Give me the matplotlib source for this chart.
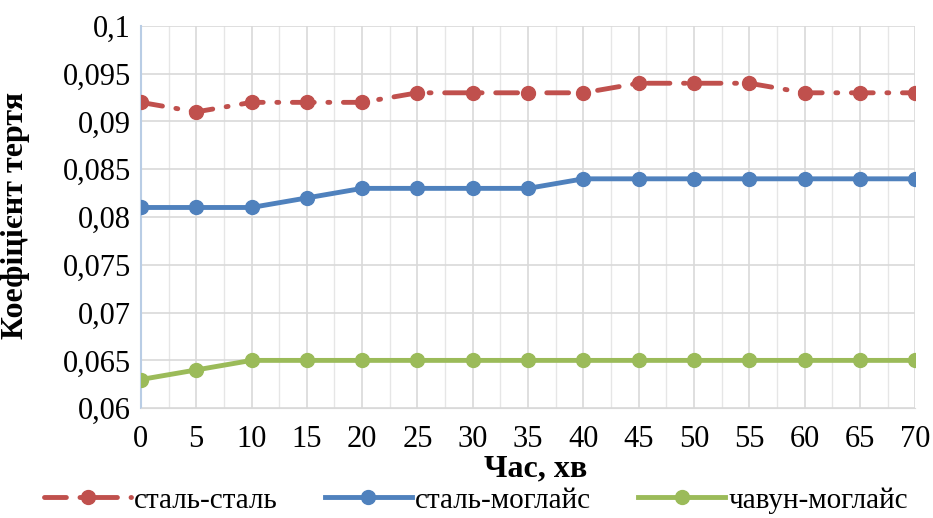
import matplotlib.pyplot as plt
import numpy as np

# Дані
t = [0, 5, 10, 15, 20, 25, 30, 35, 40, 45, 50, 55, 60, 65, 70]
stal_stal = [0.092, 0.091, 0.092, 0.092, 0.092, 0.093, 0.093, 0.093, 0.093,
             0.094, 0.094, 0.094, 0.093, 0.093, 0.093]
stal_moglais = [0.081, 0.081, 0.081, 0.082, 0.083, 0.083, 0.083, 0.083, 0.084,
                0.084, 0.084, 0.084, 0.084, 0.084, 0.084]
chavun_moglais = [0.063, 0.064, 0.065, 0.065, 0.065, 0.065, 0.065, 0.065, 0.065,
                  0.065, 0.065, 0.065, 0.065, 0.065, 0.065]
y_ticks = [0.06, 0.065, 0.07, 0.075, 0.08, 0.085, 0.09, 0.095, 0.1]
y_labels = ["0,06", "0,065", "0,07", "0,075", "0,08", "0,085", "0,09", "0,095", "0,1"]

plt.rcParams['font.family'] = ['Liberation Serif', 'DejaVu Serif']

fig = plt.figure(figsize=(9.33, 5.18), dpi=100)
ax = fig.add_axes([0.151, 0.212, 0.830, 0.738])

lw = 3.5
ms = 10
l1, = ax.plot(t, stal_stal, color='#C0504D', lw=lw, marker='o', ms=ms,
              dashes=(4.5, 2.8, 0.4, 2.8), dash_capstyle='round', zorder=3)
l2, = ax.plot(t, stal_moglais, color='#4F81BD', lw=lw, marker='o', ms=ms, zorder=3)
l3, = ax.plot(t, chavun_moglais, color='#9BBB59', lw=lw, marker='o', ms=ms, zorder=3)

ax.set_xlim(0, 70)
ax.set_ylim(0.06, 0.1)
ax.set_xticks(t)
ax.set_xticks(np.arange(2.5, 70, 5), minor=True)
ax.set_yticks(y_ticks)
ax.set_yticklabels(y_labels)
ax.tick_params(axis='both', which='both', length=0, labelsize=22)
ax.tick_params(axis='x', pad=12)
ax.tick_params(axis='y', pad=7)

ax.grid(True, which='major', color='#D9D9D9', lw=1.2)
ax.grid(True, which='minor', axis='x', color='#E6E6E6', lw=1)
for s in ['top', 'right']:
    ax.spines[s].set_visible(False)
ax.spines['bottom'].set_color('#D9D9D9')
ax.spines['left'].set_color('#B9CDE5')
ax.spines['left'].set_linewidth(1.5)
ax.set_axisbelow(True)

ax.set_xlabel("Час, хв", fontsize=23, fontweight='bold')
ax.xaxis.set_label_coords(0.51, -0.12)
ax.set_ylabel("Коефіцієнт тертя", fontsize=23, fontweight='bold')
ax.yaxis.set_label_coords(-0.143, 0.505)

fig.legend([l1, l2, l3], ["сталь-сталь", "сталь-моглайс", "чавун-моглайс"],
           loc='lower center', bbox_to_anchor=(0.51, -0.042), ncol=3, frameon=False,
           fontsize=21, handlelength=3, handletextpad=0.1, columnspacing=1.6)

fig.savefig("out.png", dpi=100)
